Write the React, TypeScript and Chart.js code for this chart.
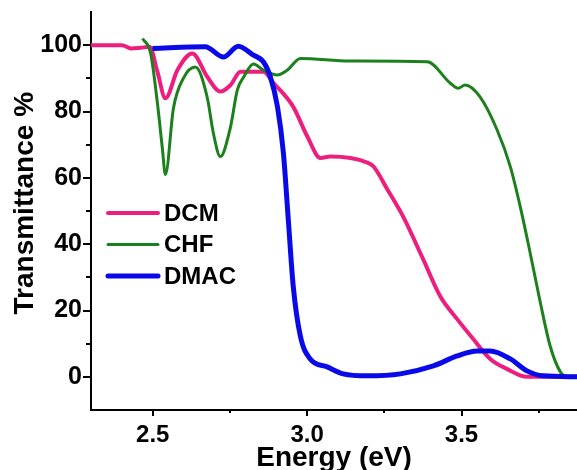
import React, { useEffect, useRef } from "react";
import { Chart, registerables } from "chart.js";

Chart.register(...registerables);

const dcmX = [2.30, 2.40, 2.43, 2.46, 2.49, 2.515, 2.541, 2.58, 2.628, 2.677, 2.719, 2.752, 2.784, 2.858, 2.891, 2.955, 3.001, 3.043, 3.075, 3.195, 3.215, 3.26, 3.311, 3.376, 3.431, 3.486, 3.538, 3.593, 3.647, 3.712, 3.874];
const dcmY = [100, 100, 99, 99.2, 99.5, 92, 84, 92.5, 97.5, 90.4, 86, 88, 92, 92, 88.6, 81.4, 72.4, 66, 66.4, 64.6, 63.4, 56.5, 48.3, 35.4, 24.3, 17.4, 11.4, 5.4, 2.4, 0, 0];

const chfX = [2.467, 2.493, 2.515, 2.531, 2.541, 2.567, 2.599, 2.638, 2.677, 2.696, 2.719, 2.751, 2.774, 2.794, 2.826, 2.858, 2.903, 2.936, 2.978, 3.14, 3.389, 3.463, 3.489, 3.512, 3.56, 3.615, 3.658, 3.69, 3.722, 3.755, 3.787, 3.82, 3.842, 3.874];
const chfY = [102, 97.6, 82.6, 69, 61, 81, 90, 93.4, 84, 73.6, 66.4, 75, 86.5, 90.3, 94.3, 92.5, 91, 92.5, 96, 95.2, 95, 88.6, 87, 88, 84.4, 74.5, 63.4, 51.4, 37.5, 22.5, 9.3, 1.5, 0, 0];

const dmacX = [2.499, 2.67, 2.729, 2.777, 2.826, 2.858, 2.881, 2.904, 2.923, 2.939, 2.955, 2.978, 3.01, 3.065, 3.117, 3.195, 3.302, 3.409, 3.486, 3.551, 3.593, 3.658, 3.712, 3.764, 3.874];
const dmacY = [99, 99.5, 96.4, 99.7, 97, 95, 90.4, 81.4, 67.6, 47.4, 27.3, 12.3, 5.4, 3, 0.9, 0.3, 0.9, 3.3, 6.3, 7.8, 7.8, 5.4, 1.8, 0.3, 0];

const seriesLabels = ["DCM", "CHF", "DMAC"];
const seriesColors = ["#ec1f7e", "#1c801c", "#0a0ae8"];

const xMajorTicks = [2.5, 3.0, 3.5];
const xMinorTicks = [2.75, 3.25, 3.75];
const yMajorTicks = [0, 20, 40, 60, 80, 100];
const yMinorTicks = [10, 30, 50, 70, 90];

const FONT = "'Liberation Sans', Arial, sans-serif";

const toPoints = (xs: number[], ys: number[]) => xs.map((x, i) => ({ x, y: ys[i] }));

const tickPlugin = {
  id: "customTicks",
  afterDraw(chart: any) {
    const { ctx, scales } = chart;
    const xs = scales.x;
    const ys = scales.y;
    ctx.save();
    ctx.strokeStyle = "#000";
    ctx.lineWidth = 2;
    const bottom = chart.chartArea.bottom;
    const left = chart.chartArea.left;
    const drawX = (v: number, len: number) => {
      const px = Math.round(xs.getPixelForValue(v));
      ctx.beginPath();
      ctx.moveTo(px, bottom);
      ctx.lineTo(px, bottom + len);
      ctx.stroke();
    };
    const drawY = (v: number, len: number) => {
      const py = Math.round(ys.getPixelForValue(v));
      ctx.beginPath();
      ctx.moveTo(left, py);
      ctx.lineTo(left - len, py);
      ctx.stroke();
    };
    xMajorTicks.forEach((v) => drawX(v, 6));
    xMinorTicks.forEach((v) => drawX(v, 3));
    yMajorTicks.forEach((v) => drawY(v, 8));
    yMinorTicks.forEach((v) => drawY(v, 5));
    ctx.restore();
  },
};

const legendPlugin = {
  id: "customLegend",
  afterDraw(chart: any) {
    const { ctx, chartArea } = chart;
    const x0 = chartArea.left + 17;
    const y0 = chartArea.top + 201;
    const gap = 31.5;
    const widths = [4, 3, 5];
    ctx.save();
    chart.data.datasets.forEach((ds: any, i: number) => {
      const y = y0 + i * gap;
      ctx.strokeStyle = ds.borderColor;
      ctx.lineWidth = widths[i];
      ctx.lineCap = "round";
      ctx.beginPath();
      ctx.moveTo(x0, y);
      ctx.lineTo(x0 + 50, y);
      ctx.stroke();
      ctx.fillStyle = "#000";
      ctx.font = `bold 24px ${FONT}`;
      ctx.textBaseline = "middle";
      ctx.textAlign = "left";
      ctx.fillText(ds.label, x0 + 56, y + 1);
    });
    ctx.restore();
  },
};

export default function App() {
  const canvasRef = useRef<HTMLCanvasElement | null>(null);

  useEffect(() => {
    const canvas = canvasRef.current;
    if (!canvas) return;
    const chart = new Chart(canvas, {
      type: "line",
      data: {
        datasets: [
          {
            label: seriesLabels[0],
            data: toPoints(dcmX, dcmY),
            borderColor: seriesColors[0],
            borderWidth: 4,
            pointRadius: 0,
            cubicInterpolationMode: "monotone",
            order: 3,
          },
          {
            label: seriesLabels[1],
            data: toPoints(chfX, chfY),
            borderColor: seriesColors[1],
            borderWidth: 3,
            pointRadius: 0,
            cubicInterpolationMode: "monotone",
            order: 2,
          },
          {
            label: seriesLabels[2],
            data: toPoints(dmacX, dmacY),
            borderColor: seriesColors[2],
            borderWidth: 5,
            pointRadius: 0,
            cubicInterpolationMode: "monotone",
            order: 1,
          },
        ],
      },
      options: {
        animation: false,
        responsive: false,
        devicePixelRatio: 1,
        layout: { padding: { top: 12, left: 0, right: 0, bottom: 0 } },
        plugins: {
          legend: { display: false },
          tooltip: { enabled: false },
        },
        scales: {
          x: {
            type: "linear",
            min: 2.3,
            max: 3.874,
            afterFit: (s: any) => {
              s.height = 70;
              s.paddingLeft = 0;
              s.paddingRight = 0;
            },
            afterBuildTicks: (s: any) => {
              s.ticks = xMajorTicks.map((v) => ({ value: v }));
            },
            ticks: {
              color: "#000",
              font: { family: FONT, size: 24, weight: "bold" },
              padding: 11,
              maxRotation: 0,
              autoSkip: false,
              callback: (v: any) => Number(v).toFixed(1),
            },
            grid: { display: true, drawOnChartArea: false, drawTicks: false },
            border: { display: true, color: "#000", width: 2 },
            title: {
              display: true,
              text: "Energy (eV)",
              color: "#000",
              font: { family: FONT, size: 28, weight: "bold" },
              padding: { top: 0, bottom: 5 },
            },
          },
          y: {
            type: "linear",
            min: -10,
            max: 110,
            afterFit: (s: any) => {
              s.width = 91;
              s.paddingTop = 0;
              s.paddingBottom = 0;
            },
            afterBuildTicks: (s: any) => {
              s.ticks = yMajorTicks.map((v) => ({ value: v }));
            },
            ticks: {
              color: "#000",
              font: { family: FONT, size: 25, weight: "bold" },
              padding: 9,
              autoSkip: false,
            },
            grid: { display: true, drawOnChartArea: false, drawTicks: false },
            border: { display: true, color: "#000", width: 2 },
            title: {
              display: true,
              text: "\u00A0\u00A0Transmittance %",
              color: "#000",
              font: { family: FONT, size: 28, weight: "bold" },
              padding: { top: 8, bottom: 0 },
            },
          },
        },
      },
      plugins: [tickPlugin, legendPlugin],
    } as any);
    return () => chart.destroy();
  }, []);

  return (
    <div
      style={{
        position: "fixed",
        left: 0,
        top: 0,
        width: 577,
        height: 470,
        overflow: "hidden",
        background: "#fff",
      }}
    >
      <canvas ref={canvasRef} width={577} height={480} style={{ display: "block" }} />
    </div>
  );
}
